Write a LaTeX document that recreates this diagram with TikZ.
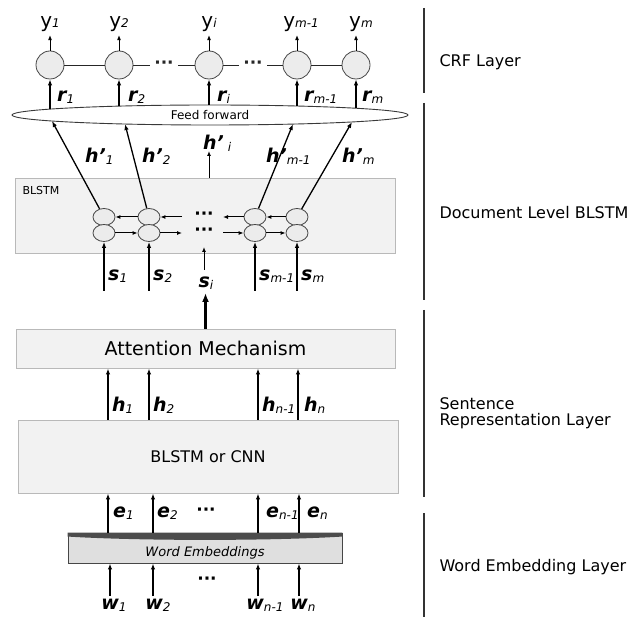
\documentclass[tikz,border=0pt]{standalone}
\usepackage{fontspec}
\setmainfont{DejaVu Sans}
\usetikzlibrary{arrows.meta,shapes.geometric}

\newcommand{\fs}[1]{\fontsize{#1}{#1}\selectfont}
\newcommand{\vlab}[2]{{\fs{19}\bfseries\itshape #1}\raisebox{-0.3ex}{\fs{12}\itshape #2}}
\newcommand{\ylab}[2]{{\fs{20}#1}\raisebox{-0.1ex}{\fs{12}\itshape #2}}

\tikzset{
  box/.style={draw=gray!55, fill=gray!10, line width=0.9pt, inner sep=0pt},
  cell/.style={ellipse, draw=gray!55!black, fill=gray!15, line width=0.8pt,
    minimum width=28pt, minimum height=28pt, inner sep=0pt},
  lcell/.style={cell, minimum width=22pt, minimum height=17pt},
  arr/.style={-{Latex[length=6pt,width=4.5pt]}, line width=1.3pt},
  tarr/.style={-{Latex[length=5pt,width=4pt]}, line width=1pt},
  bigarr/.style={-{Latex[length=9pt,width=7pt]}, line width=2.6pt},
  link/.style={line width=0.9pt, gray!30!black},
  dotsn/.style={font=\fs{17}\bfseries, inner xsep=4pt, inner ysep=1pt},
  bar/.style={line width=1.4pt, black!80},
  side/.style={anchor=west, font=\fs{16}, align=left},
  lab/.style={anchor=west, inner sep=0pt},
}

\begin{document}
\begin{tikzpicture}[x=1pt,y=-1pt]
\useasboundingbox (0,0) rectangle (629,617);

% layer bars on the right
\draw[bar] (424,8) -- (424,93);
\draw[bar] (424,103) -- (424,300);
\draw[bar] (424,310) -- (424,497);
\draw[bar] (424,513) -- (424,617);
\node[side] (crf) at (436,62) {CRF Layer};
\node[side] (doc) at (436,213) {Document Level BLSTM};
\node[side] (sent) at (436,413) {Sentence\\Representation Layer};
\node[side] (wel) at (436,567) {Word Embedding Layer};

% CRF layer
\node[cell] (c1) at (50,65) {};
\node[cell] (c2) at (119,65) {};
\node[cell] (ci) at (209,65) {};
\node[cell] (cm1) at (297,65) {};
\node[cell] (cm) at (356,65) {};
\draw[link] (c1) -- (c2);
\draw[link] (c2) -- node[dotsn, fill=white] (dt1) {···} (ci);
\draw[link] (ci) -- node[dotsn, fill=white] (dt2) {···} (cm1);
\draw[link] (cm1) -- (cm);

\node (y1) at (50,24) {\ylab{y}{1}};
\node (y2) at (119,24) {\ylab{y}{2}};
\node (yi) at (209,24) {\ylab{y}{i}};
\node (ym1) at (301,24) {\ylab{y}{m-1}};
\node (ym) at (361,24) {\ylab{y}{m}};
\draw[tarr] (c1.north) -- (c1.north |- y1.south);
\draw[tarr] (c2.north) -- (c2.north |- y2.south);
\draw[tarr] (ci.north) -- (ci.north |- yi.south);
\draw[tarr] (cm1.north) -- (cm1.north |- ym1.south);
\draw[tarr] (cm.north) -- (cm.north |- ym.south);

% feed forward
\node[ellipse, draw=gray!45!black, fill=white, line width=0.9pt, minimum width=396pt,
  minimum height=20pt, inner sep=0pt, font=\fs{12}] (ff) at (210,115) {Feed forward};
\coordinate (rb1) at (50,{115-10*sqrt(1-((50-210)/198)^2)});
\coordinate (rb2) at (119,{115-10*sqrt(1-((119-210)/198)^2)});
\coordinate (rbi) at (209,105);
\coordinate (rbm1) at (297,{115-10*sqrt(1-((297-210)/198)^2)});
\coordinate (rbm) at (356,{115-10*sqrt(1-((356-210)/198)^2)});
\draw[arr] (rb1) -- (c1);
\draw[arr] (rb2) -- (c2);
\draw[arr] (rbi) -- (ci);
\draw[arr] (rbm1) -- (cm1);
\draw[arr] (rbm) -- (cm);
\node[lab] (r1) at (57,97) {\vlab{r}{1}};
\node[lab] (r2) at (128,97) {\vlab{r}{2}};
\node[lab] (ri) at (217,97) {\vlab{r}{i}};
\node[lab] (rm1) at (304,97) {\vlab{r}{m-1}};
\node[lab] (rm) at (362,97) {\vlab{r}{m}};

% document level BLSTM
\node[box, minimum width=380pt, minimum height=75pt] (blstm) at (205,215.5) {};
\node[anchor=west, font=\fs{11}] (blstmlab) at (19,190) {BLSTM};
\node[lcell] (u1) at (104,217) {};
\node[lcell] (u2) at (149,217) {};
\node[lcell] (um1) at (255,217) {};
\node[lcell] (um) at (297,217) {};
\node[lcell] (l1) at (104,233) {};
\node[lcell] (l2) at (149,233) {};
\node[lcell] (lm1) at (255,233) {};
\node[lcell] (lm) at (297,233) {};
\node[dotsn] (du) at (204,216) {···};
\node[dotsn] (dl) at (204,232) {···};
\coordinate (ua) at (182,217);
\coordinate (ub) at (223,217);
\coordinate (la) at (182,233);
\coordinate (lb) at (223,233);
\draw[tarr] (u2) -- (u1);
\draw[tarr] (ua) -- (u2);
\draw[tarr] (um1) -- (ub);
\draw[tarr] (um) -- (um1);
\draw[tarr] (l1) -- (l2);
\draw[tarr] (l2) -- (la);
\draw[tarr] (lb) -- (lm1);
\draw[tarr] (lm1) -- (lm);

% h' into feed forward
\coordinate (hb1) at (52,{115+10*sqrt(1-((52-210)/198)^2)});
\coordinate (hb2) at (125,{115+10*sqrt(1-((125-210)/198)^2)});
\coordinate (hbm1) at (293,{115+10*sqrt(1-((293-210)/198)^2)});
\coordinate (hbm) at (352,{115+10*sqrt(1-((352-210)/198)^2)});
\coordinate (hit) at (209,151);
\draw[arr] (u1) -- (hb1);
\draw[arr] (u2) -- (hb2);
\draw[arr] (um1) -- (hbm1);
\draw[arr] (um) -- (hbm);
\draw[tarr] (blstm.north -| hit) -- (hit);
\node[lab] (hp1) at (85,156) {\vlab{h'}{1}};
\node[lab] (hp2) at (142,156) {\vlab{h'}{2}};
\node[lab] (hpi) at (203,143) {\vlab{h'}{\,\,i}};
\node[lab] (hpm1) at (266,156) {\vlab{h'}{m-1}};
\node[lab] (hpm) at (342,156) {\vlab{h'}{m}};

% sentence vectors
\coordinate (st1) at (104,291);
\coordinate (st2) at (149,291);
\coordinate (stm1) at (255,291);
\coordinate (stm) at (297,291);
\draw[arr] (st1) -- (l1);
\draw[arr] (st2) -- (l2);
\draw[arr] (stm1) -- (lm1);
\draw[arr] (stm) -- (lm);
\node[lab] (s1) at (108,276) {\vlab{s}{1}};
\node[lab] (s2) at (153,276) {\vlab{s}{2}};
\node[lab] (sm1) at (259,276) {\vlab{s}{m-1}};
\node[lab] (sm) at (301,276) {\vlab{s}{m}};
\coordinate (sit) at (204,270);
\coordinate (sih) at (204,247);
\draw[tarr] (sit) -- (sih);
\node (si) at (206,283) {\vlab{s}{i}};
\coordinate (sia) at (205.5,293);

% attention
\node[box, minimum width=379pt, minimum height=39pt, font=\fs{19}] (att) at (205.5,348.5) {Attention Mechanism};
\draw[bigarr] (att.north) -- (sia);

% BLSTM or CNN
\node[box, minimum width=380pt, minimum height=73pt, font=\fs{16}] (cnn) at (208,456.5) {BLSTM or CNN};
\coordinate (hx1) at (108,0);
\coordinate (hx2) at (149,0);
\coordinate (hxn1) at (258,0);
\coordinate (hxn) at (298,0);
\draw[arr] (cnn.north -| hx1) -- (att.south -| hx1);
\draw[arr] (cnn.north -| hx2) -- (att.south -| hx2);
\draw[arr] (cnn.north -| hxn1) -- (att.south -| hxn1);
\draw[arr] (cnn.north -| hxn) -- (att.south -| hxn);
\node[lab] (h1) at (112,405) {\vlab{h}{1}};
\node[lab] (h2) at (153,405) {\vlab{h}{2}};
\node[lab] (hn1) at (262,405) {\vlab{h}{n-1}};
\node[lab] (hn) at (304,405) {\vlab{h}{n}};

% word embeddings
\node[draw=gray!55!black, fill=gray!25, line width=0.9pt, minimum width=274pt,
  minimum height=30pt, inner sep=0pt] (we) at (205,548) {};
\fill[gray!60!black] (we.north west) -- (we.north east) -- ++(0,4)
  .. controls (270,541) and (140,541) .. ([yshift=-4pt]we.north west) -- cycle;
\node[font=\fs{13}\itshape] (wetxt) at (205,553) {Word Embeddings};
\coordinate (ex1) at (108,0);
\coordinate (ex2) at (153,0);
\coordinate (exn1) at (258,0);
\coordinate (exn) at (299,0);
\draw[arr] (we.north -| ex1) -- (cnn.south -| ex1);
\draw[arr] (we.north -| ex2) -- (cnn.south -| ex2);
\draw[arr] (we.north -| exn1) -- (cnn.south -| exn1);
\draw[arr] (we.north -| exn) -- (cnn.south -| exn);
\node[lab] (e1) at (113,513) {\vlab{e}{1}};
\node[lab] (e2) at (157,513) {\vlab{e}{2}};
\node[dotsn] (de) at (206,512) {···};
\node[lab] (en1) at (266,513) {\vlab{e}{n-1}};
\node[lab] (en) at (307,513) {\vlab{e}{n}};

% words
\coordinate (wt1) at (110,596);
\coordinate (wt2) at (153,596);
\coordinate (wtn1) at (258,596);
\coordinate (wtn) at (299,596);
\draw[arr] (wt1) -- (we.south -| wt1);
\draw[arr] (wt2) -- (we.south -| wt2);
\draw[arr] (wtn1) -- (we.south -| wtn1);
\draw[arr] (wtn) -- (we.south -| wtn);
\node[dotsn] (dw) at (207,581) {···};
\node[anchor=north, inner sep=0pt] (w1) at (114,599) {\vlab{w}{1}};
\node[anchor=north, inner sep=0pt] (w2) at (158,599) {\vlab{w}{2}};
\node[anchor=north, inner sep=0pt] (wn1) at (265,599) {\vlab{w}{n-1}};
\node[anchor=north, inner sep=0pt] (wn) at (303,599) {\vlab{w}{n}};
\end{tikzpicture}
\end{document}
